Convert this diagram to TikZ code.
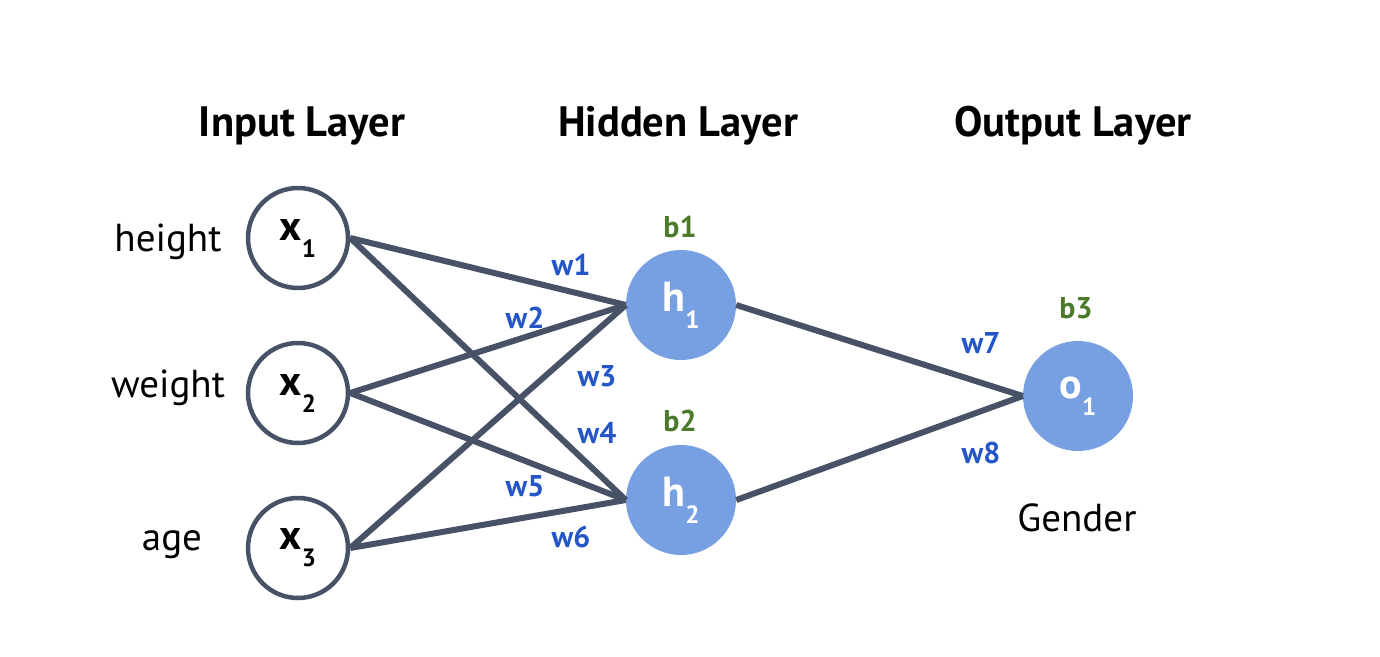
\documentclass[tikz,border=0pt]{standalone}
\usepackage{fontspec}
\setmainfont{PT Sans}
\begin{document}
\begin{tikzpicture}[x=1pt,y=-1pt,
  inp/.style={circle,draw=slate,line width=4.5pt,fill=white,minimum size=100pt,inner sep=0pt},
  neur/.style={circle,fill=nblue,minimum size=110pt,inner sep=0pt,text=white},
  conn/.style={draw=slate,line width=6pt},
  title/.style={font=\fontsize{42.5}{46}\selectfont\bfseries},
  side/.style={font=\fontsize{39}{42}\selectfont},
  wlab/.style={text=wblue,font=\fontsize{30}{32}\selectfont\bfseries},
  blab/.style={text=bgreen,font=\fontsize{30}{32}\selectfont\bfseries}]
\definecolor{slate}{RGB}{71,82,102}
\definecolor{nblue}{RGB}{119,160,227}
\definecolor{wblue}{RGB}{36,86,200}
\definecolor{bgreen}{RGB}{74,122,42}
\newcommand{\nlab}[2]{{\fontsize{42}{42}\selectfont\bfseries #1}\raisebox{-17pt}{\fontsize{25}{25}\selectfont\bfseries #2}}
\useasboundingbox (0,0) rectangle (1380,656);
\fill[white] (0,0) rectangle (1380,656);

% layer titles
\node[title] (tin) at (302,126) {Input Layer};
\node[title] (thid) at (678,126) {Hidden Layer};
\node[title] (tout) at (1073,126) {Output Layer};

% input neurons
\node[inp] (x1) at (298,238) {\nlab{x}{1}};
\node[inp] (x2) at (298,393) {\nlab{x}{2}};
\node[inp] (x3) at (298,548) {\nlab{x}{3}};

% hidden and output neurons
\node[neur] (h1) at (681,305) {\nlab{h}{1}};
\node[neur] (h2) at (681,500) {\nlab{h}{2}};
\node[neur] (o1) at (1078,396) {\nlab{o}{1}};

% connections
\draw[conn] (x1.east) -- (h1.west);
\draw[conn] (x1.east) -- (h2.west);
\draw[conn] (x2.east) -- (h1.west);
\draw[conn] (x2.east) -- (h2.west);
\draw[conn] (x3.east) -- (h1.west);
\draw[conn] (x3.east) -- (h2.west);
\draw[conn] (h1.east) -- (o1.west);
\draw[conn] (h2.east) -- (o1.west);

% input and output names
\node[side] (nh) at (168,242) {height};
\node[side] (nw) at (168,388) {weight};
\node[side] (na) at (172,545) {age};
\node[side] (ng) at (1077,518) {Gender};

% weights
\node[wlab] (w1) at (571,265) {w1};
\node[wlab] (w2) at (525,318) {w2};
\node[wlab] (w3) at (597,376) {w3};
\node[wlab] (w4) at (597,433) {w4};
\node[wlab] (w5) at (525,486) {w5};
\node[wlab] (w6) at (571,537) {w6};
\node[wlab] (w7) at (981,343) {w7};
\node[wlab] (w8) at (981,453) {w8};

% biases
\node[blab] (b1) at (680,227) {b1};
\node[blab] (b2) at (680,421) {b2};
\node[blab] (b3) at (1076,308) {b3};
\end{tikzpicture}
\end{document}
